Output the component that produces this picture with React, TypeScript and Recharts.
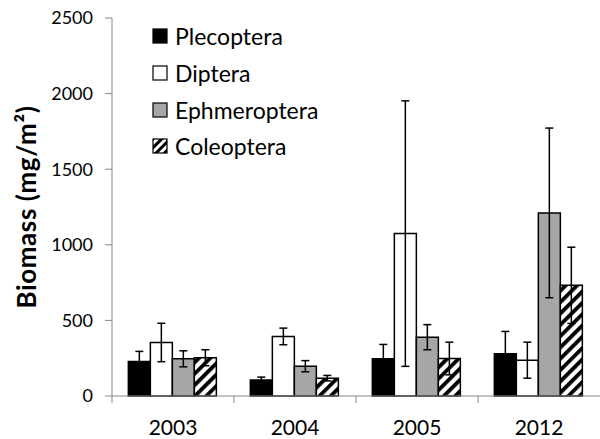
import React from 'react';
import { BarChart, Bar, XAxis, YAxis, ErrorBar } from 'recharts';

const years = ['2003', '2004', '2005', '2012'];
const plecoptera = [228, 105, 246, 279];
const plecopteraErr = [67, 20, 95, 148];
const diptera = [354, 394, 1074, 237];
const dipteraErr = [127, 55, 878, 119];
const ephmeroptera = [246, 197, 389, 1211];
const ephmeropteraErr = [53, 37, 83, 561];
const coleoptera = [253, 118, 248, 732];
const coleopteraErr = [53, 18, 108, 252];
const yTicks = [0, 500, 1000, 1500, 2000, 2500];

const data = years.map((year, i) => ({
  year,
  plecoptera: plecoptera[i],
  plecopteraErr: plecopteraErr[i],
  diptera: diptera[i],
  dipteraErr: dipteraErr[i],
  ephmeroptera: ephmeroptera[i],
  ephmeropteraErr: ephmeropteraErr[i],
  coleoptera: coleoptera[i],
  coleopteraErr: coleopteraErr[i],
}));

const series = [
  { key: 'plecoptera', name: 'Plecoptera', fill: '#000000' },
  { key: 'diptera', name: 'Diptera', fill: '#ffffff' },
  { key: 'ephmeroptera', name: 'Ephmeroptera', fill: '#a6a6a6' },
  { key: 'coleoptera', name: 'Coleoptera', fill: 'url(#hatch)' },
];

const FONT = 'Lato, "Open Sans", sans-serif';
const AXIS_GREY = '#868686';

// category ticks sit on the band edges, labels in the middle
const XTick = (props: any) => {
  const { x, y, payload } = props;
  const edge = x - (payload.offset || 0);
  return (
    <g>
      <line x1={edge} y1={y - 8} x2={edge} y2={y - 1} stroke={AXIS_GREY} strokeWidth={1} />
      <text x={x} y={y + 16} dy="0.71em" textAnchor="middle" fontSize={21} fill="#000" fontFamily={FONT}>
        {payload.value}
      </text>
    </g>
  );
};

const YLabel = (props: any) => {
  const { viewBox } = props;
  const cx = viewBox.x + 26;
  const cy = viewBox.y + viewBox.height / 2;
  return (
    <text
      x={cx}
      y={cy}
      transform={`rotate(-90 ${cx} ${cy})`}
      textAnchor="middle"
      dominantBaseline="central"
      fontSize={26}
      letterSpacing={0.6}
      fontWeight="bold"
      fontFamily={FONT}
      fill="#000"
    >
      Biomass (mg/m²)
    </text>
  );
};

const LegendBox = () => (
  <div style={{ position: 'absolute', left: 152, top: 18, fontFamily: FONT, fontSize: 23, color: '#000' }}>
    <svg width={0} height={0} style={{ position: 'absolute' }}>
      <defs>
        <pattern id="hatchIcon" patternUnits="userSpaceOnUse" width={6} height={6} patternTransform="rotate(45)">
          <rect x={0} y={0} width={6} height={6} fill="#ffffff" />
          <rect x={0} y={0} width={3} height={6} fill="#000000" />
        </pattern>
      </defs>
    </svg>
    {series.map((s) => (
      <div key={s.key} style={{ display: 'flex', alignItems: 'center', height: 36.7 }}>
        <svg width={17} height={16} style={{ marginRight: 6 }}>
          <rect
            x={1}
            y={1}
            width={14}
            height={14}
            fill={s.fill === 'url(#hatch)' ? 'url(#hatchIcon)' : s.fill}
            stroke="#000"
            strokeWidth={1.2}
          />
        </svg>
        <span>{s.name}</span>
      </div>
    ))}
  </div>
);

export default function App() {
  return (
    <div style={{ position: 'absolute', left: 0, top: 0, width: 600, height: 439, background: '#fff' }}>
      <BarChart
        width={600}
        height={439}
        data={data}
        margin={{ top: 18, right: 0, bottom: 0, left: 0 }}
        barCategoryGap="13.4%"
        barGap={0}
      >
        <defs>
          <pattern id="hatch" patternUnits="userSpaceOnUse" width={8} height={8} patternTransform="rotate(45)">
            <rect x={0} y={0} width={8} height={8} fill="#ffffff" />
            <rect x={0} y={0} width={3.8} height={8} fill="#000000" />
          </pattern>
        </defs>
        <XAxis
          dataKey="year"
          height={43}
          stroke={AXIS_GREY}
          tickLine={false}
          tick={<XTick />}
          interval={0}
        />
        <YAxis
          width={112}
          domain={[0, 2500]}
          ticks={yTicks}
          stroke={AXIS_GREY}
          tickSize={7}
          tickMargin={12}
          tick={{ fontSize: 18, fill: '#000', fontFamily: FONT }}
          label={<YLabel />}
        />
        {series.map((s) => (
          <Bar
            key={s.key}
            dataKey={s.key}
            name={s.name}
            fill={s.fill}
            stroke="#000"
            strokeWidth={1.5}
            isAnimationActive={false}
          >
            <ErrorBar dataKey={`${s.key}Err`} width={4} stroke="#000" strokeWidth={1.5} />
          </Bar>
        ))}
      </BarChart>
      <LegendBox />
    </div>
  );
}
